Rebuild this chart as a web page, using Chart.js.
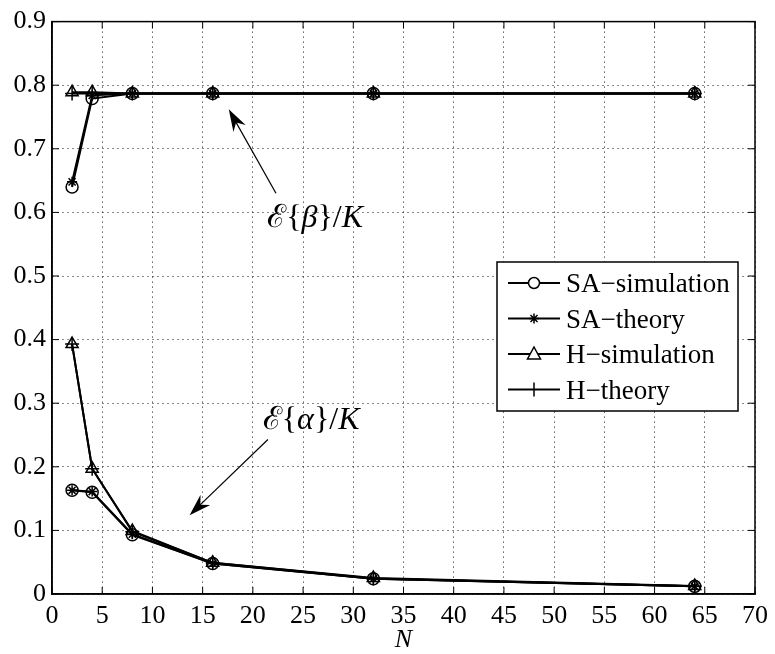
<!DOCTYPE html>
<html>
<head>
<meta charset="utf-8">
<script src="https://cdn.jsdelivr.net/npm/chart.js@4/dist/chart.umd.min.js"></script>
<style>
  body { margin: 0; background: white; }
  #wrap { width: 775px; height: 654px; }
</style>
</head>
<body>
<div id="wrap"><canvas id="myChart" width="775" height="654"></canvas></div>
<script>
// values
const N = [2, 4, 8, 16, 32, 64];

const saSimBeta = [0.640, 0.779, 0.787, 0.787, 0.787, 0.787];
const saThBeta = [0.648, 0.784, 0.787, 0.787, 0.787, 0.787];
const hSimBeta = [0.789, 0.789, 0.787, 0.787, 0.787, 0.787];
const hThBeta = [0.787, 0.787, 0.787, 0.787, 0.787, 0.787];

const saSimAlpha = [0.163, 0.160, 0.093, 0.048, 0.024, 0.012];
const saThAlpha = [0.163, 0.161, 0.094, 0.048, 0.024, 0.012];
const hSimAlpha = [0.393, 0.197, 0.099, 0.049, 0.025, 0.0125];
const hThAlpha = [0.393, 0.197, 0.098, 0.049, 0.0245, 0.0123];

const xTicks = [0, 5, 10, 15, 20, 25, 30, 35, 40, 45, 50, 55, 60, 65, 70];
const yTicks = [0, 0.1, 0.2, 0.3, 0.4, 0.5, 0.6, 0.7, 0.8, 0.9];
const yTickLabels = ["0", "0.1", "0.2", "0.3", "0.4", "0.5", "0.6", "0.7", "0.8", "0.9"];

const legendNames = ["SA\u2212simulation", "SA\u2212theory", "H\u2212simulation", "H\u2212theory"];
const legendMarkers = ["circle", "star", "triangle", "cross"];

const SERIF = "'Liberation Serif', 'Times New Roman', Times, serif";

const toPoints = (ys) => N.map((n, i) => ({ x: n, y: ys[i] }));

const makeSet = (label, ys, marker) => ({
  label: label,
  data: toPoints(ys),
  borderColor: "black",
  backgroundColor: "white",
  borderWidth: 2,
  pointStyle: marker,
  pointRadius: marker === "star" ? 5 : marker === "circle" ? 6 : 7,
  pointBorderWidth: 1.5,
  pointBorderColor: "black",
  pointBackgroundColor: "rgba(0,0,0,0)",
  tension: 0,
  fill: false
});

// drawing a marker by hand for the legend box
function drawMarker(ctx, type, x, y) {
  ctx.save();
  ctx.strokeStyle = "black";
  ctx.fillStyle = "white";
  ctx.lineWidth = 1.5;
  ctx.beginPath();
  if (type === "circle") {
    ctx.arc(x, y, 5.5, 0, Math.PI * 2);
    ctx.fill();
    ctx.stroke();
  } else if (type === "triangle") {
    ctx.moveTo(x, y - 7);
    ctx.lineTo(x + 6.5, y + 5);
    ctx.lineTo(x - 6.5, y + 5);
    ctx.closePath();
    ctx.fill();
    ctx.stroke();
  } else if (type === "star") {
    const r = 5;
    ctx.moveTo(x - r, y); ctx.lineTo(x + r, y);
    ctx.moveTo(x, y - r); ctx.lineTo(x, y + r);
    ctx.moveTo(x - r * 0.7, y - r * 0.7); ctx.lineTo(x + r * 0.7, y + r * 0.7);
    ctx.moveTo(x - r * 0.7, y + r * 0.7); ctx.lineTo(x + r * 0.7, y - r * 0.7);
    ctx.stroke();
  } else if (type === "cross") {
    ctx.moveTo(x, y - 7); ctx.lineTo(x, y + 7);
    ctx.stroke();
  }
  ctx.restore();
}

function drawArrow(ctx, x1, y1, x2, y2) {
  const ang = Math.atan2(y2 - y1, x2 - x1);
  const len = 22, wid = 7;
  ctx.save();
  ctx.strokeStyle = "black";
  ctx.fillStyle = "black";
  ctx.lineWidth = 1.2;
  ctx.beginPath();
  ctx.moveTo(x1, y1);
  ctx.lineTo(x2 - Math.cos(ang) * 10, y2 - Math.sin(ang) * 10);
  ctx.stroke();
  // arrow head
  const bx = x2 - Math.cos(ang) * len, by = y2 - Math.sin(ang) * len;
  const nx = -Math.sin(ang), ny = Math.cos(ang);
  ctx.beginPath();
  ctx.moveTo(x2, y2);
  ctx.lineTo(bx + nx * wid, by + ny * wid);
  ctx.lineTo(x2 - Math.cos(ang) * 15, y2 - Math.sin(ang) * 15);
  ctx.lineTo(bx - nx * wid, by - ny * wid);
  ctx.closePath();
  ctx.fill();
  ctx.restore();
}

// text like  E{beta}/K  with italic pieces, centred at x,y
function drawMath(ctx, greek, cx, cy) {
  const parts = [
    { t: "\u2130", it: false },
    { t: "{", it: false },
    { t: greek, it: true },
    { t: "}/", it: false },
    { t: "K", it: true }
  ];
  const size = 32;
  let total = 0;
  parts.forEach(p => {
    ctx.font = (p.it ? "italic " : "") + size + "px " + SERIF;
    p.w = ctx.measureText(p.t).width;
    total += p.w;
  });
  let x = cx - total / 2;
  ctx.save();
  ctx.fillStyle = "black";
  ctx.textBaseline = "middle";
  parts.forEach(p => {
    ctx.font = (p.it ? "italic " : "") + size + "px " + SERIF;
    ctx.fillText(p.t, x, cy);
    x += p.w;
  });
  ctx.restore();
}

const extras = {
  id: "extras",
  afterDraw(chart) {
    const ctx = chart.ctx;
    const a = chart.chartArea;
    const xs = chart.scales.x, ys = chart.scales.y;

    // frame and inward ticks on all sides
    ctx.save();
    ctx.strokeStyle = "black";
    ctx.lineWidth = 1.5;
    ctx.strokeRect(a.left, a.top, a.right - a.left, a.bottom - a.top);
    ctx.lineWidth = 1;
    ctx.beginPath();
    xTicks.forEach(v => {
      const px = xs.getPixelForValue(v);
      ctx.moveTo(px, a.bottom); ctx.lineTo(px, a.bottom - 7);
      ctx.moveTo(px, a.top); ctx.lineTo(px, a.top + 7);
    });
    yTicks.forEach(v => {
      const py = ys.getPixelForValue(v);
      ctx.moveTo(a.left, py); ctx.lineTo(a.left + 7, py);
      ctx.moveTo(a.right, py); ctx.lineTo(a.right - 7, py);
    });
    ctx.stroke();
    ctx.restore();

    // axis label N
    ctx.save();
    ctx.fillStyle = "black";
    ctx.font = "italic 26px " + SERIF;
    ctx.textAlign = "center";
    ctx.textBaseline = "middle";
    ctx.fillText("N", xs.getPixelForValue(35), 640);
    ctx.restore();

    // annotations
    drawArrow(ctx, xs.getPixelForValue(22.3), ys.getPixelForValue(0.630),
                   xs.getPixelForValue(17.6), ys.getPixelForValue(0.762));
    drawMath(ctx, "\u03b2", xs.getPixelForValue(26.2), ys.getPixelForValue(0.590));
    drawArrow(ctx, xs.getPixelForValue(21.5), ys.getPixelForValue(0.243),
                   xs.getPixelForValue(13.7), ys.getPixelForValue(0.124));
    drawMath(ctx, "\u03b1", xs.getPixelForValue(25.8), ys.getPixelForValue(0.273));

    // legend box
    const lx = 497, ly = 262, lw = 241, lh = 149;
    ctx.save();
    ctx.fillStyle = "white";
    ctx.fillRect(lx, ly, lw, lh);
    ctx.strokeStyle = "black";
    ctx.lineWidth = 1.5;
    ctx.strokeRect(lx, ly, lw, lh);
    legendNames.forEach((name, i) => {
      const y = 283 + i * 35.5;
      ctx.strokeStyle = "black";
      ctx.lineWidth = 2;
      ctx.beginPath();
      ctx.moveTo(508, y); ctx.lineTo(560, y);
      ctx.stroke();
      drawMarker(ctx, legendMarkers[i], 534, y);
      ctx.fillStyle = "black";
      ctx.font = "27px " + SERIF;
      ctx.textBaseline = "alphabetic";
      ctx.fillText(name, 566, y + 9);
    });
    ctx.restore();
  }
};

const ctx = document.getElementById("myChart").getContext("2d");
new Chart(ctx, {
  type: "line",
  data: {
    datasets: [
      makeSet("SA-simulation", saSimBeta, "circle"),
      makeSet("SA-theory", saThBeta, "star"),
      makeSet("H-simulation", hSimBeta, "triangle"),
      makeSet("H-theory", hThBeta, "cross"),
      makeSet("SA-simulation", saSimAlpha, "circle"),
      makeSet("SA-theory", saThAlpha, "star"),
      makeSet("H-simulation", hSimAlpha, "triangle"),
      makeSet("H-theory", hThAlpha, "cross")
    ]
  },
  options: {
    responsive: false,
    animation: false,
    layout: { padding: { top: 14, right: 16, left: 0, bottom: 0 } },
    plugins: {
      legend: { display: false },
      tooltip: { enabled: false }
    },
    scales: {
      x: {
        type: "linear",
        min: 0,
        max: 70,
        afterBuildTicks: (scale) => { scale.ticks = xTicks.map(v => ({ value: v })); },
        afterFit: (scale) => { scale.height = 60; },
        ticks: {
          color: "black",
          font: { family: SERIF, size: 26 },
          padding: 7,
          maxRotation: 0,
          autoSkip: false,
          callback: (v) => String(v)
        },
        grid: { color: "#111", lineWidth: 1, drawTicks: false },
        border: { display: true, color: "black", width: 1.5, dash: [1, 4] }
      },
      y: {
        type: "linear",
        min: 0,
        max: 0.9,
        afterBuildTicks: (scale) => { scale.ticks = yTicks.map(v => ({ value: v })); },
        afterFit: (scale) => { scale.width = 52; },
        ticks: {
          color: "black",
          font: { family: SERIF, size: 26 },
          padding: 6,
          autoSkip: false,
          callback: (v) => yTickLabels[yTicks.findIndex(t => Math.abs(t - v) < 1e-6)]
        },
        grid: { color: "#111", lineWidth: 1, drawTicks: false },
        border: { display: true, color: "black", width: 1.5, dash: [1, 4] }
      }
    }
  },
  plugins: [extras]
});
</script>
</body>
</html>
